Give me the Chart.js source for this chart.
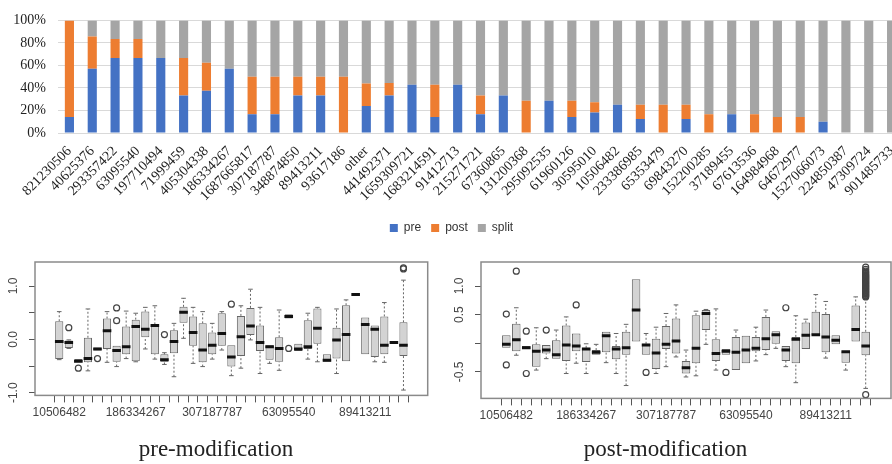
<!DOCTYPE html>
<html>
<head>
<meta charset="utf-8">
<script src="https://cdn.jsdelivr.net/npm/chart.js@4.4.0/dist/chart.umd.min.js"></script>
<style>
  html, body { margin: 0; padding: 0; background: #fff; width: 892px; height: 464px; overflow: hidden; position: relative; }
  .wrap { position: absolute; }
</style>
</head>
<body>
<div class="wrap" style="left:0;top:0;width:920px;height:244px"><canvas id="topChart"></canvas></div>
<div class="wrap" style="left:0;top:250px;width:435px;height:214px"><canvas id="preChart"></canvas></div>
<div class="wrap" style="left:440px;top:250px;width:509px;height:214px"><canvas id="postChart"></canvas></div>
<script>
// stacked share chart (percent)
var ids = ['821230506','40625376','293357422','63095540','197710494','71999459','405304338','186334267','1687665817','307187787','348874850','89413211','93617186','other','441492371','1659309721','1683214591','91412713','215271721','67360865','131200368','295092535','61960126','30595010','10506482','233386985','65353479','69843270','152200285','37189455','67613536','164984968','64672977','1527066073','224850387','47309724','901485733'];
var pre = [14.3,57.1,66.7,66.7,66.7,33.3,37.5,57.1,16.7,16.7,33.3,33.3,0,24,33.3,42.9,14.3,42.9,16.7,33.3,0,28.6,14.3,18.2,25,12.5,0,12.5,0,16.7,0,0,0,10,0,0,0];
var post = [85.7,28.6,16.7,16.7,0,33.3,25,0,33.3,33.3,16.7,16.7,50,20,11.1,0,28.6,0,16.7,0,28.6,0,14.3,9.1,0,12.5,25,12.5,16.7,0,16.7,14.3,14.3,0,0,0,0];
var split = [0,14.3,16.6,16.6,33.3,33.4,37.5,42.9,50,50,50,50,50,56,55.6,57.1,57.1,57.1,66.6,66.7,71.4,71.4,71.4,72.7,75,75,75,75,83.3,83.3,83.3,85.7,85.7,90,100,100,100];

// boxplot groups (sorted names)
var boxNames = ['10506482','131200368','1527066073','152200285','164984968','1659309721','1683214591','1687665817','186334267','197710494','215271721','224850387','233386985','293357422','295092535','30595010','307187787','348874850','37189455','405304338','40625376','441492371','47309724','61960126','63095540','64672977','65353479','67360865','67613536','69843270','71999459','821230506','89413211','901485733','91412713','93617186','other'];

// pre-modification
var preLo  = [-0.38,-0.17,-0.43,-0.59,-0.21,-0.43,-0.51,-0.36,-0.42,-0.18,-0.37,-0.47,-0.70,0.02,-0.45,-0.51,-0.37,-0.20,-0.68,-0.54,-0.01,-0.64,-0.45,-0.58,0.40,-0.22,-0.37,-0.42,-0.42,-0.64,-0.41,0.84,-0.28,-0.42,-0.43,-0.06,-0.95];
var preQ1  = [-0.37,-0.16,-0.43,-0.43,-0.21,-0.18,-0.42,-0.28,-0.41,0.04,-0.28,-0.42,-0.26,0.31,-0.12,-0.43,-0.28,-0.12,-0.51,-0.31,0.08,-0.22,-0.38,-0.42,0.39,-0.22,-0.18,-0.08,-0.42,-0.36,-0.41,0.84,-0.28,-0.33,-0.28,-0.06,-0.31];
var preMed = [-0.04,-0.06,-0.41,-0.36,-0.18,0.16,-0.21,-0.14,0.24,0.19,0.26,-0.38,-0.04,0.51,0.13,-0.20,-0.11,0.11,-0.33,0.05,0.25,-0.06,-0.14,-0.17,0.43,-0.18,-0.14,0.21,-0.39,-0.01,0.09,0.84,0.28,0.19,-0.11,-0.06,-0.11];
var preQ3  = [0.34,-0.02,-0.37,0.03,-0.15,0.39,-0.12,0.24,0.37,0.52,0.28,-0.28,0.17,0.61,0.43,0.30,0.13,0.49,-0.11,0.44,0.59,0.26,-0.11,0.04,0.47,-0.08,0.36,0.58,-0.28,0.22,0.64,0.84,0.41,0.26,0.43,-0.06,0.32];
var preHi  = [0.52,-0.01,-0.37,0.57,-0.15,0.52,-0.12,0.53,0.49,0.60,0.63,-0.25,0.30,0.77,0.60,0.52,0.30,0.52,-0.11,0.63,0.94,0.60,-0.11,0.55,0.47,-0.08,0.49,0.60,-0.28,0.57,0.74,0.84,0.41,0.26,0.69,-0.06,1.11];
var preOut = [[1,0.22],[2,-0.54],[4,-0.36],[6,0.59],[6,0.35],[11,0.09],[18,0.66],[24,-0.17],[36,1.34],[36,1.32]];

// post-modification
var postLo  = [-0.08,-0.21,-0.10,-0.47,-0.27,-0.27,-0.53,-0.35,-0.53,-0.20,-0.34,-0.53,-0.74,0.03,-0.20,-0.53,-0.41,-0.24,-0.59,-0.57,-0.02,-0.47,-0.20,-0.47,-0.35,-0.31,-0.20,-0.09,-0.41,-0.69,-0.10,0.14,-0.26,-0.02,-0.47,0.03,-0.79];
var postQ1  = [-0.08,-0.14,-0.10,-0.41,-0.18,-0.27,-0.31,-0.14,-0.33,-0.20,-0.16,-0.28,-0.20,0.03,-0.20,-0.45,-0.10,-0.18,-0.53,-0.35,0.23,-0.31,-0.20,-0.47,-0.35,-0.14,-0.12,-0.01,-0.31,-0.35,-0.10,0.14,-0.16,-0.02,-0.34,0.03,-0.21];
var postMed = [-0.02,0.06,-0.08,-0.14,-0.12,-0.20,-0.03,-0.05,-0.10,-0.16,0.13,-0.10,-0.08,0.58,-0.03,-0.17,-0.02,0.04,-0.43,-0.09,0.52,-0.18,-0.14,-0.16,-0.12,-0.09,0.08,0.15,-0.12,0.07,0.14,0.15,0.11,0.05,-0.15,0.24,-0.05];
var postQ3  = [0.14,0.34,-0.05,-0.02,-0.03,0.05,0.31,0.17,-0.08,-0.12,0.20,-0.05,0.20,1.12,-0.01,0.08,0.30,0.43,-0.31,0.49,0.58,0.07,-0.10,0.11,0.13,0.11,0.46,0.21,-0.05,0.11,0.36,0.55,0.51,0.14,-0.14,0.66,0.20];
var postHi  = [0.14,0.62,-0.05,0.27,-0.03,0.23,0.46,0.17,-0.01,-0.02,0.20,0.17,0.33,1.12,0.17,0.28,0.52,0.67,-0.12,0.56,0.59,0.60,-0.10,0.23,0.13,0.28,0.58,0.21,-0.05,0.48,0.42,0.85,0.73,0.14,-0.14,0.81,0.78];
var postOut = [[0,0.51],[0,-0.38],[1,1.26],[2,0.21],[2,-0.53],[4,0.23],[7,0.67],[14,-0.51],[22,-0.51],[28,0.62],[36,-0.90],
  [36,0.81],[36,0.825],[36,0.84],[36,0.855],[36,0.87],[36,0.885],[36,0.90],[36,0.915],[36,0.93],[36,0.945],[36,0.96],[36,0.975],
  [36,0.99],[36,1.005],[36,1.02],[36,1.035],[36,1.05],[36,1.065],[36,1.08],[36,1.095],[36,1.11],[36,1.125],[36,1.14],[36,1.155],
  [36,1.17],[36,1.185],[36,1.20],[36,1.22],[36,1.24],[36,1.26],[36,1.29],[36,1.33]];

var preTicks = [-1, -0.5, 0, 0.5, 1];
var preTickLabels = ['-1.0', '', '0.0', '', '1.0'];
var postTicks = [-0.5, 0, 0.5, 1];
var postTickLabels = ['-0.5', '', '0.5', '1.0'];

new Chart(document.getElementById('topChart'), {
  type: 'bar',
  data: {
    labels: ids,
    datasets: [
      { label: 'pre', data: pre, backgroundColor: '#4472C4' },
      { label: 'post', data: post, backgroundColor: '#ED7D31' },
      { label: 'split', data: split, backgroundColor: '#A5A5A5' }
    ]
  },
  options: {
    responsive: true,
    maintainAspectRatio: false,
    animation: false,
    events: [],
    layout: { padding: { top: 13, right: 17, left: 0, bottom: 0 } },
    datasets: { bar: { barPercentage: 0.4, categoryPercentage: 1 } },
    scales: {
      x: {
        stacked: true,
        grid: { display: false },
        border: { display: false },
        ticks: { autoSkip: false, minRotation: 45, maxRotation: 45, padding: 2, color: '#222',
                 font: { family: '"Liberation Serif"', size: 14 } },
        afterFit: function (s) { s.height = 79; }
      },
      y: {
        stacked: true,
        min: 0, max: 100,
        ticks: { stepSize: 20, padding: 12, color: '#222',
                 font: { family: '"Liberation Serif"', size: 14 },
                 callback: function (v) { return v + '%'; } },
        grid: { color: '#D9D9D9', drawTicks: false },
        border: { display: false },
        afterFit: function (s) { s.width = 58; }
      }
    },
    plugins: {
      legend: { position: 'bottom',
                labels: { boxWidth: 8, boxHeight: 8, padding: 10, color: '#333',
                          font: { family: '"Liberation Sans"', size: 12 } } },
      tooltip: { enabled: false }
    }
  }
});

// frame + rotated y labels, R style
var rFrame = {
  id: 'rFrame',
  afterDraw: function (chart, args, opts) {
    var a = chart.chartArea, ctx = chart.ctx, y = chart.scales.y;
    ctx.save();
    ctx.strokeStyle = '#8a8a8a';
    ctx.lineWidth = 1.5;
    ctx.strokeRect(a.left, a.top, a.right - a.left, a.bottom - a.top);
    ctx.fillStyle = '#444';
    ctx.font = '12px "Liberation Sans"';
    ctx.textAlign = 'center';
    ctx.textBaseline = 'middle';
    opts.ticks.forEach(function (v, i) {
      if (!opts.labels[i]) return;
      ctx.save();
      ctx.translate(a.left - 21, y.getPixelForValue(v));
      ctx.rotate(-Math.PI / 2);
      ctx.fillText(opts.labels[i], 0, 0);
      ctx.restore();
    });
    ctx.restore();
  }
};

function boxChart(id, lo, q1, med, q3, hi, outs, yTicks, yLabels, yMin, yMax, title, yWidth, pad, xHeight) {
  var boxes = [], meds = [], whisk = [], staples = [], points = [];
  for (var i = 0; i < med.length; i++) {
    boxes.push({ x: i, y: [q1[i], q3[i]] });
    meds.push({ x: i, y: med[i] });
    if (hi[i] > q3[i]) {
      whisk.push({ x: i, y: q3[i] }, { x: i, y: hi[i] }, { x: i, y: null });
      staples.push({ x: i, y: hi[i] });
    }
    if (lo[i] < q1[i]) {
      whisk.push({ x: i, y: lo[i] }, { x: i, y: q1[i] }, { x: i, y: null });
      staples.push({ x: i, y: lo[i] });
    }
  }
  outs.forEach(function (o) { points.push({ x: o[0], y: o[1] }); });

  return new Chart(document.getElementById(id), {
    type: 'bar',
    data: {
      datasets: [
        { type: 'line', data: whisk, borderColor: '#666', borderWidth: 1, borderDash: [2, 2],
          pointRadius: 0, spanGaps: false, order: 4 },
        { type: 'bar', data: boxes, backgroundColor: '#D3D3D3', borderColor: '#666', borderWidth: 1,
          borderSkipped: false, barPercentage: 1, categoryPercentage: 0.85, order: 3 },
        { type: 'scatter', data: staples, pointStyle: 'line', pointRadius: 2.3,
          borderColor: '#666', borderWidth: 1, order: 2 },
        { type: 'scatter', data: meds, pointStyle: 'line', pointRadius: 4.3,
          borderColor: '#111', borderWidth: 3, order: 1 },
        { type: 'scatter', data: points, pointStyle: 'circle', pointRadius: 3,
          borderColor: '#444', backgroundColor: 'rgba(0,0,0,0)', borderWidth: 1.2, order: 0 }
      ]
    },
    options: {
      responsive: true,
      maintainAspectRatio: false,
      animation: false,
      events: [],
      layout: { padding: pad },
      scales: {
        x: {
          type: 'linear', min: -1.98, max: 37.98,
          grid: { drawOnChartArea: false, tickLength: 7, color: '#555' },
          border: { display: false },
          afterBuildTicks: function (s) { s.ticks = boxNames.map(function (n, i) { return { value: i }; }); },
          ticks: { autoSkip: false, maxRotation: 0, padding: 3, color: '#444',
                   font: { family: '"Liberation Sans"', size: 12 },
                   callback: function (v) { return v % 8 === 0 ? boxNames[v] : ''; } },
          afterFit: function (s) { s.height = xHeight; }
        },
        y: {
          min: yMin, max: yMax,
          grid: { drawOnChartArea: false, tickLength: 6, color: '#555' },
          border: { display: false },
          afterBuildTicks: function (s) { s.ticks = yTicks.map(function (v) { return { value: v }; }); },
          ticks: { display: false },
          afterFit: function (s) { s.width = yWidth; }
        }
      },
      plugins: {
        legend: { display: false },
        tooltip: { enabled: false },
        title: { display: true, text: title, position: 'bottom', color: '#222',
                 font: { family: '"Liberation Serif"', size: 23, weight: 'normal' },
                 padding: { top: 6, bottom: 0 } },
        rFrame: { ticks: yTicks, labels: yLabels }
      }
    },
    plugins: [rFrame]
  });
}

boxChart('preChart', preLo, preQ1, preMed, preQ3, preHi, preOut, preTicks, preTickLabels,
  -1.05, 1.45, 'pre-modification', 35, { top: 12, right: 3, left: 0, bottom: 0 }, 35);
boxChart('postChart', postLo, postQ1, postMed, postQ3, postHi, postOut, postTicks, postTickLabels,
  -0.965, 1.42, 'post-modification', 41, { top: 12, right: 58, left: 0, bottom: 0 }, 32);
</script>
</body>
</html>
